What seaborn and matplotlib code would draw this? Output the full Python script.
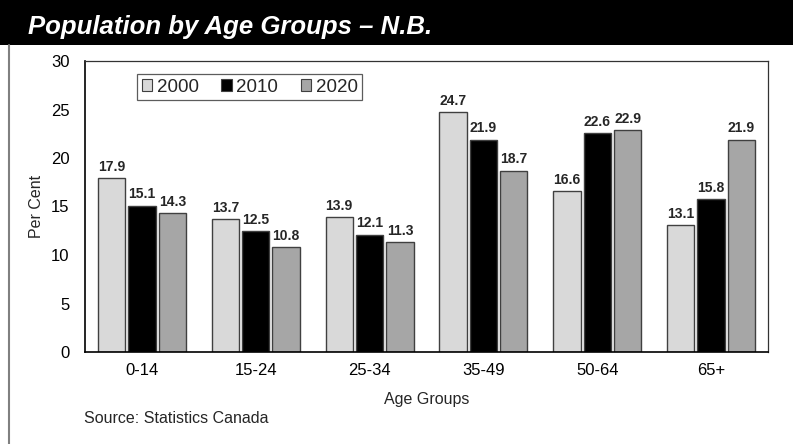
import matplotlib
matplotlib.use("Agg")
import matplotlib.pyplot as plt
import seaborn as sns
import pandas as pd
from matplotlib.patches import Rectangle

# Data
age_groups = ["0-14", "15-24", "25-34", "35-49", "50-64", "65+"]
years = ["2000", "2010", "2020"]
pct_2000 = [17.9, 13.7, 13.9, 24.7, 16.6, 13.1]
pct_2010 = [15.1, 12.5, 12.1, 21.9, 22.6, 15.8]
pct_2020 = [14.3, 10.8, 11.3, 18.7, 22.9, 21.9]
y_ticks = [0, 5, 10, 15, 20, 25, 30]

df = pd.DataFrame({
    "Age Groups": age_groups * 3,
    "Year": [y for y in years for _ in age_groups],
    "Per Cent": pct_2000 + pct_2010 + pct_2020,
})

sns.set_theme(style="white")
plt.rcParams["font.family"] = ["Liberation Sans", "DejaVu Sans"]

palette = {"2000": "#d9d9d9", "2010": "#000000", "2020": "#a6a6a6"}

fig = plt.figure(figsize=(7.93, 4.44), dpi=100)
ax = fig.add_axes([85 / 793, 1 - 352 / 444, (768 - 85) / 793, (352 - 61) / 444])

sns.barplot(data=df, x="Age Groups", y="Per Cent", hue="Year", hue_order=years,
            palette=palette, order=age_groups, width=0.8, gap=0.1,
            edgecolor="#404040", linewidth=1.0, errorbar=None, ax=ax,
            saturation=1)

for cont in ax.containers:
    ax.bar_label(cont, fmt="%.1f", padding=3, fontsize=10, fontweight="bold")

ax.set_ylim(0, 30)
ax.set_xlim(-0.5, 5.5)
ax.set_yticks(y_ticks)
ax.tick_params(axis="both", length=0, labelsize=12, colors="#000000")
ax.tick_params(axis="y", pad=11)
ax.tick_params(axis="x", pad=8)
ax.set_ylabel("Per Cent", fontsize=11.5, labelpad=5)
ax.set_xlabel("Age Groups", fontsize=11.5, labelpad=10)

for side in ["left", "bottom"]:
    ax.spines[side].set_color("#000000")
    ax.spines[side].set_linewidth(1.2)
for side in ["top", "right"]:
    ax.spines[side].set_color("#333333")
    ax.spines[side].set_linewidth(0.9)

leg = ax.legend(loc="upper left", bbox_to_anchor=((137 - 85) / 683, (352 - 74) / 291),
                borderaxespad=0, ncol=3, frameon=True, fancybox=False, fontsize=13.5,
                handlelength=0.55, handleheight=0.55, handletextpad=0.25,
                columnspacing=1.2, borderpad=0.25)
leg.get_frame().set_edgecolor("#333333")
leg.get_frame().set_linewidth(0.9)
for h in leg.legend_handles:
    h.set_edgecolor("#404040")
    h.set_linewidth(0.8)

# Title bar
fig.patches.append(Rectangle((0, 1 - 45 / 444), 1, 45 / 444, transform=fig.transFigure,
                             facecolor="#000000", edgecolor="none", zorder=0))
fig.text(28 / 793, 1 - 34 / 444, "Population by Age Groups \u2013 N.B.", color="white",
         fontsize=18.5, fontweight="bold", fontstyle="italic", va="baseline", ha="left")

# Left frame line
fig.add_artist(plt.Line2D([8.5 / 793, 8.5 / 793], [0, 1 - 45 / 444], transform=fig.transFigure,
                          color="#808080", linewidth=1.5))

fig.text(84 / 793, 1 - 418 / 444, "Source: Statistics Canada", fontsize=11.5,
         va="center", ha="left")

fig.savefig("out.png", dpi=100)
